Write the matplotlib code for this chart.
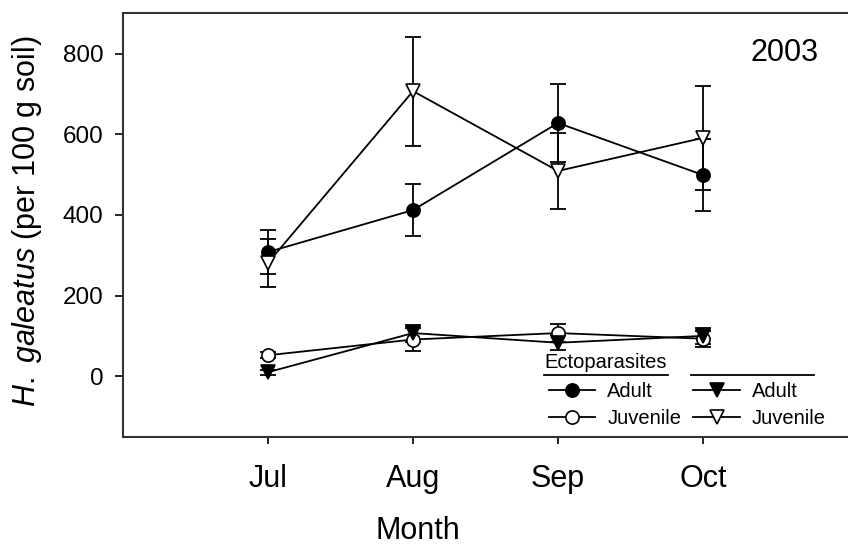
import matplotlib
matplotlib.use("Agg")
import matplotlib.pyplot as plt
from matplotlib.lines import Line2D

plt.rcParams['font.family'] = ['Liberation Sans', 'DejaVu Sans']
plt.rcParams['mathtext.fontset'] = 'custom'
plt.rcParams['mathtext.rm'] = 'Liberation Sans'
plt.rcParams['mathtext.it'] = 'Liberation Sans:italic'

# data (mean +- SE)
months = ['Jul', 'Aug', 'Sep', 'Oct']
month_num = [7, 8, 9, 10]

ecto_adult = [308, 412, 628, 499]
ecto_adult_se = [54, 65, 96, 90]
ecto_juv = [52, 91, 107, 93]
ecto_juv_se = [8, 29, 23, 20]
endo_adult = [10, 107, 83, 100]
endo_adult_se = [6, 21, 19, 20]
endo_juv = [281, 707, 509, 591]
endo_juv_se = [60, 135, 94, 129]

fig = plt.figure(figsize=(8.48, 5.46), dpi=100)
ax = fig.add_axes([123 / 848, 1 - 436.7 / 546, 1 - 123 / 848, (436.7 - 13.3) / 546])

def draw(y, se, marker, face, label):
    ax.errorbar(month_num, y, yerr=se, color='black', lw=1.3, elinewidth=1.3,
                capsize=5.5, capthick=1.3, fmt='none', zorder=2)
    h, = ax.plot(month_num, y, color='black', lw=1.3, marker=marker, ms=9.5,
                 mfc=face, mec='black', mew=1.2, zorder=3, label=label)
    return h

h1 = draw(ecto_adult, ecto_adult_se, 'o', 'black', 'Adult')
h2 = draw(ecto_juv, ecto_juv_se, 'o', 'white', 'Juvenile')
h3 = draw(endo_adult, endo_adult_se, 'v', 'black', 'Adult')
h4 = draw(endo_juv, endo_juv_se, 'v', 'white', 'Juvenile')

ax.set_xlim(6, 11)
ax.set_ylim(-150, 900)
ax.set_xticks(month_num)
ax.set_xticklabels(months)
ax.set_yticks([0, 200, 400, 600, 800])
ax.tick_params(axis='x', labelsize=22, length=5, width=1.2, pad=15, direction='out')
ax.tick_params(axis='y', labelsize=17.5, length=6, width=1.2, pad=8, direction='out')
ax.spines['right'].set_visible(False)
for s in ['left', 'top', 'bottom']:
    ax.spines[s].set_linewidth(1.5)
    ax.spines[s].set_color('#333333')

ax.set_ylabel(r'$\mathit{H.}$ $\mathit{galeatus}$ (per 100 g soil)', fontsize=22)
ax.yaxis.set_label_coords(-(123 - 44) / 725, 1 - (221 - 13.3) / 423.4)
ax.set_xlabel('Month', fontsize=22)
ax.xaxis.set_label_coords((418 - 123) / 725, -(516 - 436.7) / 423.4)

ax.text((750 - 123) / 725, 1 - (53 - 13.3) / 423.4, '2003', fontsize=22,
        ha='left', va='center', transform=ax.transAxes)

leg = ax.legend(handles=[h1, h2, h3, h4], ncol=2, frameon=False, fontsize=14.5,
                handlelength=2.3, handletextpad=0.6, columnspacing=0.6,
                labelspacing=0.4, borderpad=0, borderaxespad=0,
                loc='upper left',
                bbox_to_anchor=(549 / 848, 1 - 382 / 546),
                bbox_transform=fig.transFigure)

fig.text(544 / 848, 1 - 363 / 546, 'Ectoparasites', fontsize=14.5, ha='left', va='center')
fig.add_artist(Line2D([544 / 848, 668 / 848], [1 - 375 / 546] * 2, color='black', lw=1.3))
fig.add_artist(Line2D([691 / 848, 814 / 848], [1 - 375 / 546] * 2, color='black', lw=1.3))

fig.savefig('out.png', dpi=100)
